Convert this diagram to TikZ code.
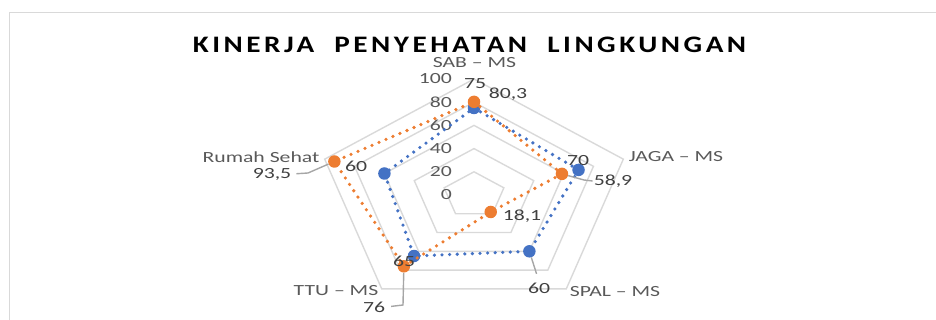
\documentclass[tikz,border=0pt]{standalone}
\usepackage{fontspec}
\setmainfont{Carlito}
\usepackage{xcolor}
\usepackage{tikz}
\usetikzlibrary{positioning}

\definecolor{serBlue}{HTML}{4472C4}
\definecolor{serOrange}{HTML}{ED7D31}
\definecolor{gridGray}{HTML}{D9D9D9}
\definecolor{axisText}{HTML}{595959}
\definecolor{valText}{HTML}{404040}
\definecolor{leadGray}{HTML}{A6A6A6}

% text is stretched sideways like the chart
\newcommand{\wide}[1]{\scalebox{1.4}[1]{#1}}

\begin{document}
\begin{tikzpicture}[x=1pt, y=-1pt,
    GridStyle/.style = {draw=gridGray, line width=1.4pt, line join=miter},
    BlueLine/.style = {draw=serBlue, line width=3.6pt, line cap=round, dash pattern=on 0pt off 7.6pt},
    OrangeLine/.style = {draw=serOrange, line width=3.6pt, line cap=round, dash pattern=on 0pt off 7.6pt},
    BlueDot/.style = {circle, fill=serBlue, minimum size=12.5pt, inner sep=0pt},
    OrangeDot/.style = {circle, fill=serOrange, minimum size=12.5pt, inner sep=0pt},
    AxisText/.style = {text=axisText, font=\fontsize{15.5}{16}\selectfont, inner sep=0pt},
    ValText/.style = {text=valText, font=\fontsize{15.5}{16}\selectfont, inner sep=1pt},
    Leader/.style = {draw=leadGray, line width=1.4pt}]
			\useasboundingbox (0,0) rectangle (936,320);
			\draw[gridGray, line width=1.5pt] (9.5,320) -- (9.5,12.5) -- (936,12.5);

			\node[inner sep=0pt] (title) at (469.5,44.5)
				{\resizebox{553pt}{15.5pt}{\bfseries\addfontfeature{LetterSpace=12}KINERJA\ \ PENYEHATAN\ \ LINGKUNGAN}};

			% radar: spokes at 90, 18, -54, -126, 162 degrees
			\begin{scope}[shift={(474,195)}, x=1.57pt, y=1.16pt]
				\foreach \lv in {20,40,...,100}
					\draw[GridStyle] (90:\lv) -- (18:\lv) -- (-54:\lv) -- (-126:\lv) -- (162:\lv) -- cycle;
				\foreach \k/\v in {0/75,1/70,2/60,3/65,4/60}
					\coordinate (b\k) at ({90-72*\k}:\v);
				\foreach \k/\v in {0/80.3,1/58.9,2/18.1,3/76,4/93.5}
					\coordinate (o\k) at ({90-72*\k}:\v);
			\end{scope}
			\foreach \lv in {0,20,...,100}
				\node[AxisText, anchor=east] (tick\lv) at (452,{195-1.16*\lv}) {\wide{\lv}};

			% categories
			\node[AxisText] (catSAB) at (474.5,62.5) {\wide{SAB \textendash{} MS}};
			\node[AxisText] (catJAGA) at (676,157) {\wide{JAGA \textendash{} MS}};
			\node[AxisText] (catSPAL) at (615,292) {\wide{SPAL \textendash{} MS}};
			\node[AxisText] (catTTU) at (336,291) {\wide{TTU \textendash{} MS}};
			\node[AxisText] (catRumah) at (261,157) {\wide{Rumah Sehat}};

			% series
			\draw[BlueLine] (b0) -- (b1) -- (b2) -- (b3) -- (b4) -- cycle;
			\foreach \k in {0,...,4}
				\node[BlueDot] (bm\k) at (b\k) {};
			\draw[OrangeLine] (o0) -- (o1) -- (o2) -- (o3) -- (o4) -- cycle;
			\foreach \k in {0,...,4}
				\node[OrangeDot] (om\k) at (o\k) {};

			% data labels
			\node[ValText] (v75) at (475,84) {\wide{75}};
			\node[ValText] (v803) at (508,94) {\wide{80,3}};
			\node[ValText] (v70) at (578,161) {\wide{70}};
			\node[ValText] (v589) at (613,181) {\wide{58,9}};
			\node[ValText] (v181) at (522,216) {\wide{18,1}};
			\node[ValText] (v60s) at (539,288) {\wide{60}};
			\node[ValText] (v65) at (404,261) {\wide{65}};
			\node[ValText] (v76) at (374,307) {\wide{76}};
			\node[ValText] (v935) at (272,174) {\wide{93,5}};
			\node[ValText] (v60r) at (356,166) {\wide{60}};

			% leader lines
			\coordinate (k589) at (584,180);
			\coordinate (k935) at (308,173);
			\coordinate (k76) at (403,305);
			\draw[Leader] (om1) -- (k589) -- (v589.west);
			\draw[Leader, shorten >=8pt] (bm2) -- (v60s.north);
			\draw[Leader, shorten >=4pt] (om4) -- (k935) -- (v935.east);
			\draw[Leader, shorten >=5pt] (om3) -- (k76) -- (v76.east);
		\end{tikzpicture}
\end{document}
